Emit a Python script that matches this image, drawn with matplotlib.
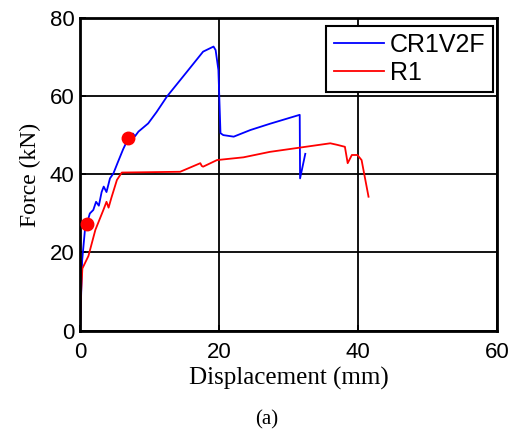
import matplotlib
matplotlib.use("Agg")
import matplotlib.pyplot as plt

# CR1V2F (blue)
cr_x = [0, 0.3, 0.7, 1.0, 1.4, 1.9, 2.3, 2.7, 3.1, 3.4, 3.8, 4.3, 4.8, 5.4, 6.2, 6.95,
        7.6, 7.9, 8.4, 9.8, 11.0, 12.5, 15.4, 17.7, 19.2, 19.5, 19.9, 20.2, 20.6, 22.1,
        24.5, 27.3, 31.6, 31.65, 32.4]
cr_y = [0, 18, 25.8, 27.5, 30, 30.9, 33, 32, 35.5, 36.9, 35.5, 39, 40.3, 43, 46.5, 49.3,
        50.5, 49.8, 51, 53.1, 56, 60, 66.4, 71.5, 72.8, 71.9, 66.8, 50.6, 50.1, 49.7,
        51.4, 53, 55.3, 39, 45.3]

# R1 (red)
r1_x = [0, 0.15, 0.33, 1.2, 2.2, 3.35, 3.8, 4.1, 4.5, 5.3, 6.0, 14.4, 17.3, 17.5,
        17.7, 19.7, 23.5, 27.3, 36.0, 37.0, 38.1, 38.5, 39.1, 39.9, 40.5, 41.5]
r1_y = [0, 10, 15.9, 19.1, 25.8, 30.9, 33, 31.5, 34, 38.6, 40.5, 40.7, 42.9, 42.2,
        42.0, 43.7, 44.4, 45.8, 48, 47.6, 47.1, 42.9, 45, 45, 43.7, 34.3]

# marked points
dot_x = [0.96, 6.95]
dot_y = [27.3, 49.3]

fig = plt.figure(figsize=(5.2, 4.37), dpi=100)
ax = fig.add_axes([0.154, 0.2437, 0.802, 0.714])

ax.plot(cr_x, cr_y, color="blue", lw=1.3, label="CR1V2F")
ax.plot(r1_x, r1_y, color="red", lw=1.3, label="R1")
ax.plot(dot_x, dot_y, "o", color="red", ms=9, zorder=5)

ax.set_xlim(0, 60)
ax.set_ylim(0, 80)
ax.set_xticks([0, 20, 40, 60])
ax.set_yticks([0, 20, 40, 60, 80])
ax.grid(True, color="black", lw=1.3)
ax.set_axisbelow(True)
for s in ax.spines.values():
    s.set_linewidth(2)
ax.tick_params(direction="in", length=4, width=1.3, labelsize=16)
ax.tick_params(axis="x", pad=8)
ax.tick_params(axis="y", pad=4)
for lbl in ax.get_xticklabels() + ax.get_yticklabels():
    lbl.set_family("Liberation Sans")

ax.set_xlabel("Displacement (mm)", family="Liberation Serif", fontsize=18, labelpad=3)
ax.set_ylabel("Force (kN)", family="Liberation Serif", fontsize=17, labelpad=6)

leg = ax.legend(loc="upper right", bbox_to_anchor=(0.99, 0.977),
                prop={"family": "Liberation Sans", "size": 18},
                fancybox=False, framealpha=1, edgecolor="black", borderpad=0.3,
                handlelength=2.0, handletextpad=0.25, labelspacing=0.15,
                borderaxespad=0.0)
leg.get_frame().set_linewidth(1.5)

fig.text(0.513, 0.028, "(a)", family="Liberation Serif", fontsize=15, ha="center")

fig.savefig("out.png")
